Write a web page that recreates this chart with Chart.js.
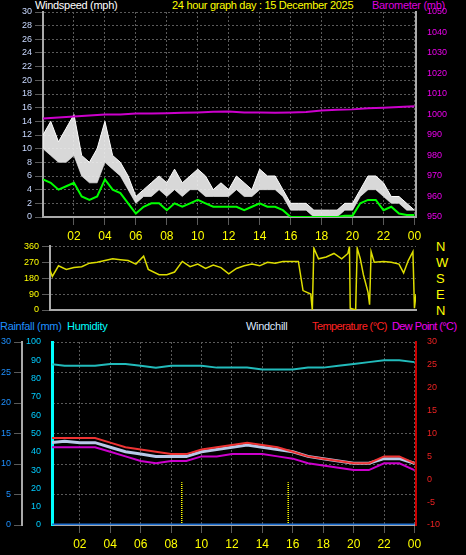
<!DOCTYPE html>
<html>
<head>
<meta charset="utf-8">
<script src="https://cdn.jsdelivr.net/npm/chart.js@4.4.1/dist/chart.umd.min.js"></script>
<style>
  body { margin:0; background:#000; width:466px; height:555px; overflow:hidden; font-family:"Liberation Sans", Arial, sans-serif; }
  canvas { position:absolute; left:0; }
  .t { position:absolute; font-size:11px; white-space:nowrap; letter-spacing:-0.3px; }
</style>
</head>
<body>
<div class="t" style="left:35px;top:-1px;color:#fff">Windspeed (mph)</div>
<div class="t" style="left:172px;top:-1px;color:#ff0">24 hour graph day : 15 December 2025</div>
<div class="t" style="left:372px;top:-1px;color:#d0d">Barometer (mb)</div>
<div class="t" style="left:436px;top:239px;color:#ff0;font-size:13px">N</div>
<div class="t" style="left:436px;top:255px;color:#ff0;font-size:13px">W</div>
<div class="t" style="left:436px;top:271px;color:#ff0;font-size:13px">S</div>
<div class="t" style="left:436px;top:287px;color:#ff0;font-size:13px">E</div>
<div class="t" style="left:436px;top:303px;color:#ff0;font-size:13px">N</div>
<div class="t" style="left:0px;top:320px;color:#1e90ff">Rainfall (mm)</div>
<div class="t" style="left:67px;top:320px;color:#0ff">Humidity</div>
<div class="t" style="left:246px;top:320px;color:#dde8ff">Windchill</div>
<div class="t" style="left:312px;top:320px;color:#f22;letter-spacing:-0.6px">Temperature (°C)</div>
<div class="t" style="left:392px;top:320px;color:#e0e;letter-spacing:-0.6px">Dew Point (°C)</div>

<canvas id="wind" width="466" height="245" style="top:0"></canvas>
<canvas id="dir" width="466" height="87" style="top:238px"></canvas>
<canvas id="temp" width="466" height="230" style="top:325px"></canvas>

<script>
// half-hour samples for wind, hourly samples for slow series
const halfHours = Array.from({length: 49}, (_, i) => i / 2);
const hours = Array.from({length: 25}, (_, i) => i);

const windGust = [12,14,11,13,15,9,8,10,14,9,8,6,3,4,5,6,5,7,5,6,7,6,4,5,4,6,5,4,7,6,6,4,2,2,2,1,1,1,1,2,2,4,6,6,5,3,3,2,1];
const windAvg  = [10,9,8,8,9,6,5,5,8,7,6,4,2,3,3,4,3,4,3,4,4,3,3,3,3,4,3,3,4,4,4,3,1,1,1,0,0,0,0,1,1,3,4,4,3,2,2,1,1];
const windTen  = [5.5,5,4,4.5,5,3,2.5,3,5.5,4,3.5,2,0.5,1.5,2,2,1,2,1.5,2,2.5,2,1.5,1.5,1.5,1.5,1,1.5,2,1.5,1.5,1,0,0,0,0,0,0,0,0.2,0.2,2,2.5,2.5,1,1.5,0.5,0.3,0.3];
const baro = [998,998.5,999,999.5,1000,1000,1000.5,1000.5,1000.6,1000.8,1001,1001.3,1001.5,1001,1001,1000.8,1001,1001.2,1002,1002.3,1002.5,1003,1003.3,1003.6,1004];

const dirTime = [0,0.3,0.6,1,1.5,2,2.5,3,3.5,4,4.5,5,5.5,6,6.5,6.8,7.5,8,8.5,9,9.5,10,10.5,11,11.5,12,12.5,13,13.5,14,14.5,15,15.5,16,16.5,16.8,17.3,17.4,17.5,17.8,18.3,18.8,19.3,19.7,19.8,19.85,20.2,20.3,20.5,20.7,21,21.1,21.2,21.4,22,22.5,23,23.3,23.6,23.9,24,24.1,24.4];
const dirDeg  = [280,260,190,250,230,240,245,265,270,280,290,285,280,260,305,230,200,200,215,275,245,260,235,255,240,205,235,250,260,250,270,265,275,275,275,110,90,0,350,290,300,320,290,320,360,10,0,350,290,200,100,30,330,270,275,270,260,210,280,330,10,90,60];

const humidity = [88,87,87,87,88,88,87,86,87,87,87,86,86,86,85,85,85,86,86,87,88,89,90,90,89];
const temperature = [9,9,9,9,8,7,6.5,6,5.5,5.5,6.5,7,7.5,8,7.5,7,6,5,4.5,4,3.5,3.5,5,5,3.5];
const dewPoint = [7,7,7,7,6,5,4,3.5,4,4,5,5,5.5,5.5,5.5,5,4.5,3.5,3,2.5,2,2,3.5,3.5,2];
const windchill = [8,8.3,8,8,7,6,5.5,5,5,5,6,6.5,7,7.5,7,6.5,6,5,4.5,4,3.5,3.5,4.5,4.5,3.5];
const rainfall = hours.map(() => 0);
const rainMarks = [8.7, 15.7];

const hourTicks = [2,4,6,8,10,12,14,16,18,20,22,24];
const hourLabel = v => String(v % 24).padStart(2, '0');

function pts(xs, ys) { return xs.map((x, i) => ({x: x, y: ys[i]})); }

const gridStyle = { color: '#5a5a5a', lineWidth: 1 };
const border = { dash: [2, 2], color: '#aaa', width: 2 };
const font = { family: 'Liberation Sans', size: 9 };

function xAxis(min, h, show) {
  return {
    type: 'linear', min: min, max: 24.1,
    afterBuildTicks: s => { s.ticks = hourTicks.map(v => ({value: v})); },
    ticks: { display: show, autoSkip: false, maxRotation: 0, color: '#ff0', font: {family: 'Liberation Sans', size: 12}, callback: hourLabel, padding: 4 },
    grid: gridStyle, border: { dash: [2, 2], color: '#aaa', width: 2 },
    afterFit: s => { s.height = h; }
  };
}

function yTicks(step, color, extra) {
  return Object.assign({ stepSize: step, autoSkip: false, color: color, font: font, padding: 3 }, extra || {});
}

const common = {
  responsive: false, animation: false,
  plugins: { legend: { display: false }, tooltip: { enabled: false } },
  elements: { point: { radius: 0 }, line: { tension: 0 } }
};

new Chart(document.getElementById('wind'), {
  type: 'line',
  data: { datasets: [
    { data: pts(hours, baro), yAxisID: 'yb', borderColor: '#c0c', borderWidth: 2 },
    { data: pts(halfHours, windTen), borderColor: '#0f0', borderWidth: 2 },
    { data: pts(halfHours, windGust), borderColor: '#fff', borderWidth: 1, fill: '+1', backgroundColor: 'rgba(240,240,240,0.9)' },
    { data: pts(halfHours, windAvg), borderColor: '#999', borderWidth: 1 }
  ]},
  options: Object.assign({}, common, {
    layout: { padding: { top: 12 } },
    scales: {
      x: xAxis(0, 28, true),
      y: { min: 0, max: 30, ticks: yTicks(2, '#c8d8ff'), grid: gridStyle, border: border, afterFit: s => { s.width = 43; } },
      yb: { position: 'right', min: 950, max: 1050, ticks: yTicks(10, '#e0e', { callback: v => String(v) }), grid: { display: false }, border: border, afterFit: s => { s.width = 50; } }
    }
  })
});

new Chart(document.getElementById('dir'), {
  type: 'line',
  data: { datasets: [
    { data: pts(dirTime, dirDeg), borderColor: '#dd0', borderWidth: 1.5 }
  ]},
  options: Object.assign({}, common, {
    layout: { padding: { top: 8 } },
    scales: {
      x: Object.assign(xAxis(0.45, 15, false), { grid: { display: false } }),
      y: { min: 0, max: 360, ticks: yTicks(90, '#ff0'), grid: gridStyle, border: border, afterFit: s => { s.width = 50; } },
      yr: { position: 'right', min: 0, max: 360, ticks: { display: false }, grid: { display: false }, border: { display: false }, afterFit: s => { s.width = 50; } }
    }
  })
});

const rainMarkSets = rainMarks.map(x => ({
  data: [{x: x, y: 0}, {x: x, y: 7}], yAxisID: 'yr', borderColor: '#ff0', borderWidth: 1.5, borderDash: [1, 1]
}));

new Chart(document.getElementById('temp'), {
  type: 'line',
  data: { datasets: [
    { data: pts(hours, humidity), yAxisID: 'yh', borderColor: '#2bb', borderWidth: 2 },
    { data: pts(hours, temperature), yAxisID: 'yt', borderColor: '#e33', borderWidth: 2 },
    { data: pts(hours, dewPoint), yAxisID: 'yt', borderColor: '#c0c', borderWidth: 2 },
    { data: pts(hours, windchill), yAxisID: 'yt', borderColor: '#b8c8e8', borderWidth: 3 },
    { data: pts(hours, rainfall), yAxisID: 'yr', borderColor: '#1e6fd0', borderWidth: 3 }
  ].concat(rainMarkSets)},
  options: Object.assign({}, common, {
    layout: { padding: { top: 17 } },
    scales: {
      x: xAxis(0.17, 30, true),
      yh: { position: 'left', min: 0, max: 100, ticks: yTicks(10, '#0cf'), grid: { display: false }, border: { color: '#0ff', width: 3 }, afterFit: s => { s.width = 30; } },
      yr: { position: 'left', min: 0, max: 30, ticks: yTicks(5, '#1e90ff'), grid: gridStyle, border: border, afterFit: s => { s.width = 22; } },
      yt: { position: 'right', min: -10, max: 30, ticks: yTicks(5, '#e22'), grid: { display: false }, border: { color: '#c00', width: 2 }, afterFit: s => { s.width = 50; } }
    }
  })
});
</script>
</body>
</html>
